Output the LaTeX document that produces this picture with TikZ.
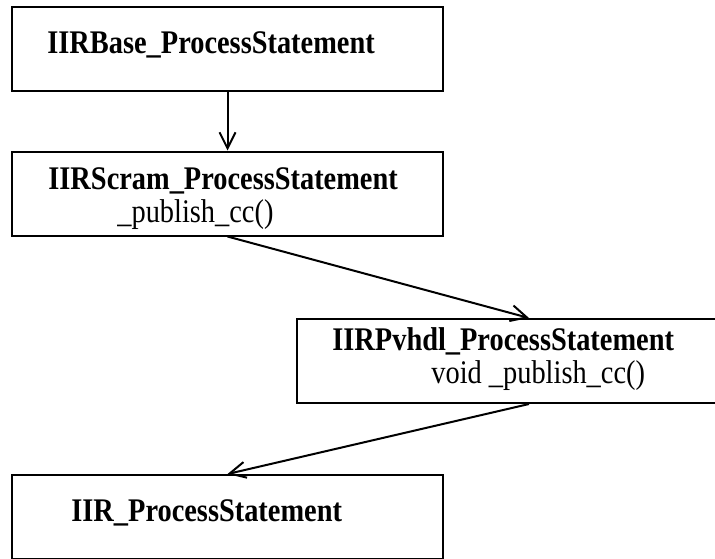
\documentclass[tikz,border=0pt]{standalone}
\usepackage{fontspec}
\setmainfont{Liberation Serif}[FakeStretch=0.86]
\usetikzlibrary{calc,arrows.meta}

\newcommand\clsfont{\fontsize{16.5}{19}\selectfont}

\tikzset{
  cls/.style={draw, line width=1pt, minimum width=215.5pt, minimum height=42pt, inner sep=0pt},
  clsname/.style={anchor=base west, inner sep=0pt, font=\clsfont\bfseries},
  member/.style={anchor=base west, inner sep=0pt, font=\clsfont},
  inherit/.style={line width=1pt, -{Straight Barb[length=8pt,width=8pt]}}
}

\begin{document}
\begin{tikzpicture}[x=0.5pt, y=-0.5pt]
  \clip (0,0) rectangle (715,558);
  % classes
  \node[cls] (base)  at (227.5,49) {};
  \node[cls] (scram) at (227.5,193.5) {};
  \node[cls, minimum width=232pt] (pvhdl) at (529,361) {};
  \node[cls] (iir)   at (227.5,517) {};
  % class names and members
  \node[clsname] (basename)  at ($(base.north west)+(36,47)$)  {IIRBase\_ProcessStatement};
  \node[clsname] (scramname) at ($(scram.north west)+(37,39)$) {IIRScram\_ProcessStatement};
  \node[member]  (scrampub)  at ($(scram.north west)+(106,72)$) {\_publish\_cc()};
  \node[clsname] (pvhdlname) at ($(pvhdl.north west)+(36,32)$) {IIRPvhdl\_ProcessStatement};
  \node[member]  (pvhdlpub)  at ($(pvhdl.north west)+(135,65)$) {void \_publish\_cc()};
  \node[clsname] (iirname)   at ($(iir.north west)+(60,47)$)   {IIR\_ProcessStatement};
  % derivation chain
  \draw[inherit] (base.south)  -- (scram.north);
  \draw[inherit] (scram.south) -- (pvhdl.north);
  \draw[inherit] (pvhdl.south) -- (iir.north);
\end{tikzpicture}
\end{document}
